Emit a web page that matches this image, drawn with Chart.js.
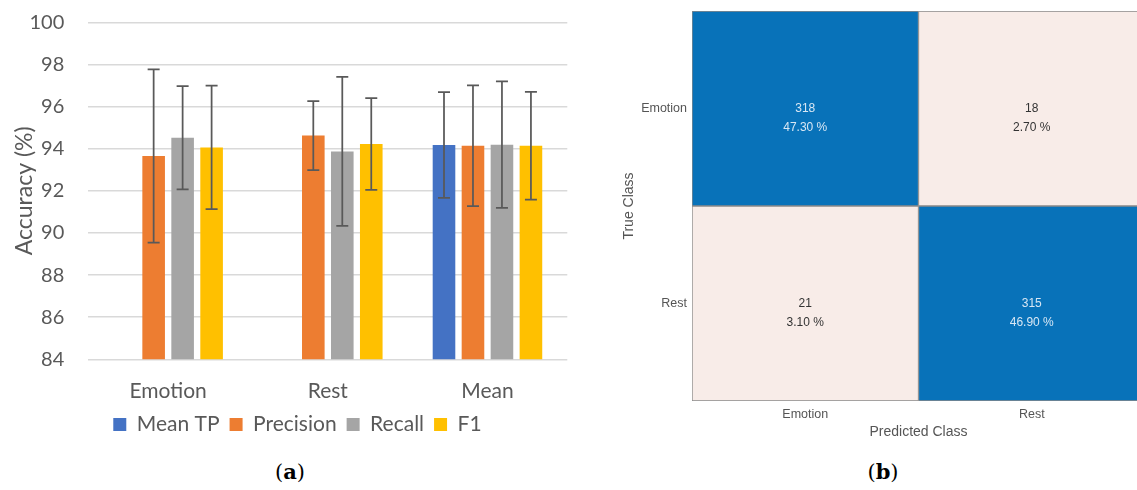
<!DOCTYPE html>
<html>
<head>
<meta charset="utf-8">
<script src="https://cdn.jsdelivr.net/npm/chart.js@4.4.1/dist/chart.umd.min.js"></script>
<style>
  html, body { margin: 0; padding: 0; background: #fff; overflow: hidden; }
  body { width: 1137px; height: 490px; position: relative; }
  #chartA { position: absolute; left: 0; top: 0; }
  #chartB { position: absolute; left: 600px; top: 0; }
  .cap { position: absolute; top: 459px; width: 80px; text-align: center;
         font-family: "DejaVu Serif", "Liberation Serif", serif; font-size: 21px; line-height: 26px; color: #000; }
</style>
</head>
<body>
<canvas id="chartA" width="580" height="445"></canvas>
<canvas id="chartB" width="545" height="450"></canvas>
<div class="cap" style="left:250px">(<b>a</b>)</div>
<div class="cap" style="left:843px">(<b>b</b>)</div>

<script>
// (a) accuracy per class
const categories = ['Emotion', 'Rest', 'Mean'];
const meanTP = [null, null, 94.17];
const meanTPErr = [null, null, 2.51];
const precision = [93.65, 94.62, 94.14];
const precisionErr = [4.11, 1.64, 2.87];
const recall = [94.52, 93.87, 94.19];
const recallErr = [2.45, 3.54, 3.00];
const f1 = [94.06, 94.22, 94.14];
const f1Err = [2.93, 2.18, 2.56];

// (b) confusion matrix, rows = true class, cols = predicted class
const classes = ['Emotion', 'Rest'];
const counts = [[318, 18], [21, 315]];
const percents = [['47.30 %', '2.70 %'], ['3.10 %', '46.90 %']];

const grey = '#595959';
const blueCell = '#0872B9';
const pinkCell = '#F8ECE8';

// whiskers drawn through the y scale
const errorBars = {
  id: 'errorBars',
  afterDatasetsDraw(chart) {
    const { ctx, scales: { y } } = chart;
    ctx.save();
    ctx.strokeStyle = grey;
    ctx.lineWidth = 1.75;
    chart.data.datasets.forEach((ds, i) => {
      chart.getDatasetMeta(i).data.forEach((bar, j) => {
        const v = ds.data[j], e = ds.errors[j];
        if (v == null || e == null) return;
        const top = y.getPixelForValue(v + e);
        const bot = y.getPixelForValue(v - e);
        ctx.beginPath();
        ctx.moveTo(bar.x, top); ctx.lineTo(bar.x, bot);
        ctx.moveTo(bar.x - 6, top); ctx.lineTo(bar.x + 6, top);
        ctx.moveTo(bar.x - 6, bot); ctx.lineTo(bar.x + 6, bot);
        ctx.stroke();
      });
    });
    ctx.restore();
  }
};

new Chart(document.getElementById('chartA'), {
  type: 'bar',
  data: {
    labels: categories,
    datasets: [
      { label: 'Mean TP', data: meanTP, errors: meanTPErr, backgroundColor: '#4472C4' },
      { label: 'Precision', data: precision, errors: precisionErr, backgroundColor: '#ED7D31' },
      { label: 'Recall', data: recall, errors: recallErr, backgroundColor: '#A5A5A5' },
      { label: 'F1', data: f1, errors: f1Err, backgroundColor: '#FFC000' }
    ]
  },
  options: {
    responsive: false,
    animation: false,
    layout: { padding: { left: 27.6, right: 12.7, top: 22.3, bottom: 0 } },
    datasets: { bar: { categoryPercentage: 0.726, barPercentage: 0.78, borderWidth: 0 } },
    plugins: {
      legend: {
        position: 'bottom',
        labels: { boxWidth: 13, boxHeight: 13, padding: 10, color: grey,
                  font: { family: 'Lato', size: 21 } }
      },
      tooltip: { enabled: false }
    },
    scales: {
      x: {
        grid: { display: false, drawTicks: false },
        border: { display: false },
        ticks: { color: grey, font: { family: 'Lato', size: 21 }, padding: 19 },
        afterFit: s => { s.height = 44.7; }
      },
      y: {
        min: 84,
        max: 100,
        ticks: { stepSize: 2, color: grey, font: { family: 'Lato', size: 20 }, padding: 0 },
        grid: { color: '#d9d9d9', lineWidth: 1.6, tickLength: 24, tickColor: 'rgba(0,0,0,0)' },
        border: { display: false },
        title: { display: true, text: 'Accuracy (%)', color: grey,
                 font: { family: 'Lato', size: 23 }, padding: { top: -16.5, bottom: 0 } },
        afterFit: s => { s.width = 60.7; }
      }
    }
  },
  plugins: [errorBars]
});

// count and share written in each cell
const cellText = {
  id: 'cellText',
  afterDatasetsDraw(chart) {
    const ctx = chart.ctx;
    ctx.save();
    ctx.textAlign = 'center';
    ctx.textBaseline = 'middle';
    ctx.font = '12px "Liberation Sans", Arial, sans-serif';
    chart.data.datasets.forEach((ds, col) => {
      chart.getDatasetMeta(col).data.forEach((cell, row) => {
        const cx = (cell.x + cell.base) / 2;
        const n = counts[row][col];
        ctx.fillStyle = n > 100 ? '#d8e7f4' : '#333333';
        ctx.fillText(String(n), cx, cell.y);
        ctx.fillText(percents[row][col], cx, cell.y + 19);
      });
    });
    ctx.restore();
  }
};

const cellColor = n => n > 100 ? blueCell : pinkCell;

new Chart(document.getElementById('chartB'), {
  type: 'bar',
  data: {
    labels: classes,
    datasets: classes.map((c, col) => ({
      label: c,
      data: classes.map(() => [col, col + 1]),
      backgroundColor: counts.map(r => cellColor(r[col]))
    }))
  },
  options: {
    responsive: false,
    animation: false,
    indexAxis: 'y',
    layout: { padding: { left: 0, right: 0, top: 11, bottom: 0 } },
    datasets: { bar: { categoryPercentage: 1, barPercentage: 1, grouped: false,
                       borderWidth: 1, borderColor: '#8a8a8a', borderSkipped: false } },
    plugins: { legend: { display: false }, tooltip: { enabled: false } },
    scales: {
      x: {
        min: 0,
        max: 2,
        afterBuildTicks: s => { s.ticks = classes.map((c, i) => ({ value: i + 0.5 })); },
        ticks: { callback: (v, i) => classes[i], color: '#555',
                 font: { family: 'Liberation Sans', size: 12.5 }, padding: 6 },
        grid: { display: false, drawTicks: false },
        border: { display: false },
        title: { display: true, text: 'Predicted Class', color: '#555',
                 font: { family: 'Liberation Sans', size: 14 }, padding: { top: 0, bottom: 9 } },
        afterFit: s => { s.height = 49; }
      },
      y: {
        ticks: { color: '#555', font: { family: 'Liberation Sans', size: 12.5 }, padding: 0 },
        grid: { display: false, tickLength: 5, tickColor: 'rgba(0,0,0,0)' },
        border: { display: false },
        title: { display: true, text: 'True Class', color: '#555',
                 font: { family: 'Liberation Sans', size: 14 }, padding: { top: 21, bottom: 0 } },
        afterFit: s => { s.width = 92; }
      }
    }
  },
  plugins: [cellText]
});
</script>
</body>
</html>
